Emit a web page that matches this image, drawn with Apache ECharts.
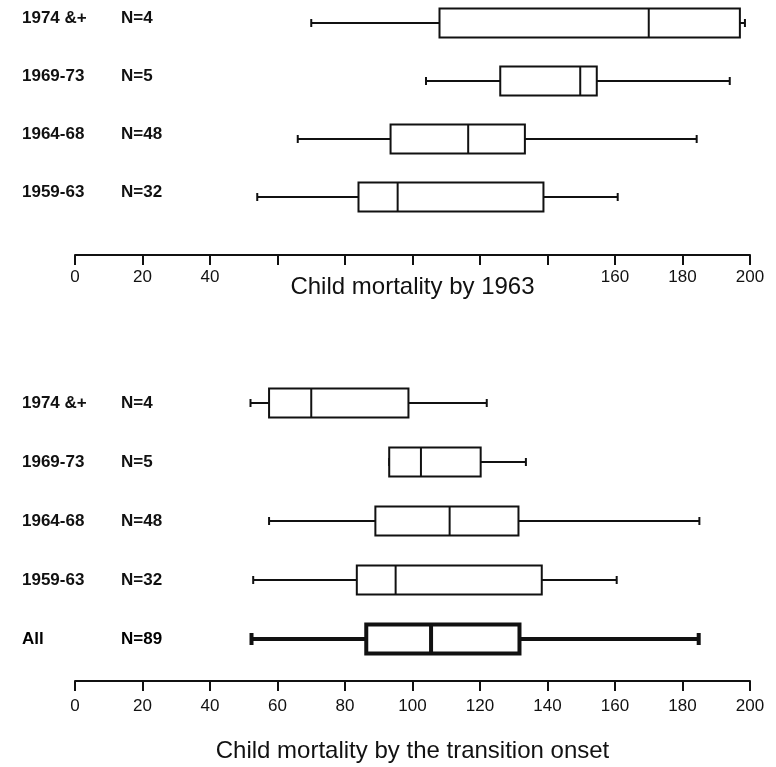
<!DOCTYPE html>
<html>
<head>
<meta charset="utf-8">
<script src="https://cdn.jsdelivr.net/npm/echarts@6/dist/echarts.min.js"></script>
<style>
  html, body { margin: 0; padding: 0; background: #fff; }
  #chart { width: 776px; height: 767px; }
</style>
</head>
<body>
<div id="chart"></div>
<script>
// row labels
const periods = ['1974 &+', '1969-73', '1964-68', '1959-63']
const counts = ['N=4', 'N=5', 'N=48', 'N=32']
const onsetPeriods = ['1974 &+', '1969-73', '1964-68', '1959-63', 'All']
const onsetCounts = ['N=4', 'N=5', 'N=48', 'N=32', 'N=89']

// [min, Q1, median, Q3, max]
const by1963 = [
  [70, 108, 170, 197, 198.5],
  [104, 126, 149.7, 154.6, 194],
  [66, 93.5, 116.5, 133.3, 184.2],
  [54, 84, 95.6, 138.8, 160.8]
]
const byOnset = [
  [52, 57.5, 70, 98.8, 122],
  [93.1, 93.1, 102.5, 120.2, 133.6],
  [57.5, 89, 111, 131.4, 185],
  [52.8, 83.5, 95, 138.3, 160.5],
  [52.3, 86.3, 105.5, 131.7, 184.8]
]

const font = 'Liberation Sans'
const ink = '#111'

// draw one box: whiskers with short caps, box and median
function renderBox(params, api) {
  const cat = api.value(0)
  const p = [1, 2, 3, 4, 5].map(i => api.coord([api.value(i), cat]))
  const y = p[0][1]
  const heavy = params.seriesIndex === 1 && params.dataIndex === 4
  const lw = heavy ? 4 : 2
  const cap = heavy ? 6 : 4
  const h = 29
  const style = { stroke: ink, lineWidth: lw, fill: null }
  const seg = (x1, y1, x2, y2) => ({
    type: 'line',
    shape: { x1, y1, x2, y2 },
    style
  })
  return {
    type: 'group',
    children: [
      seg(p[0][0], y, p[1][0], y),
      seg(p[3][0], y, p[4][0], y),
      seg(p[0][0], y - cap, p[0][0], y + cap),
      seg(p[4][0], y - cap, p[4][0], y + cap),
      {
        type: 'rect',
        shape: { x: p[1][0], y: y - h / 2, width: p[3][0] - p[1][0], height: h },
        style: { stroke: ink, lineWidth: lw, fill: '#fff' }
      },
      seg(p[2][0], y - h / 2, p[2][0], y + h / 2)
    ]
  }
}

function valueAxis(gridIndex, offset, name, nameGap, labelMargin, hideMiddle) {
  return {
    type: 'value',
    gridIndex,
    min: 0,
    max: 200,
    interval: 20,
    offset,
    position: 'bottom',
    name,
    nameLocation: 'middle',
    nameGap,
    nameMoveOverlap: false,
    nameTextStyle: { fontFamily: font, fontSize: 24, color: ink },
    splitLine: { show: false },
    axisLine: { show: true, lineStyle: { color: ink, width: 2 } },
    axisTick: { show: true, length: 10, lineStyle: { color: ink, width: 2 } },
    axisLabel: {
      margin: labelMargin,
      fontFamily: font,
      fontSize: 17,
      color: ink,
      formatter: v => (hideMiddle && v > 40 && v < 160 ? '' : String(v))
    }
  }
}

function catAxis(gridIndex, cats, ns, raise) {
  return {
    type: 'category',
    gridIndex,
    data: cats,
    inverse: true,
    boundaryGap: false,
    axisLine: { show: false },
    axisTick: { show: false },
    splitLine: { show: false },
    axisLabel: {
      align: 'left',
      margin: 53,
      padding: [0, 0, raise, 0],
      formatter: (v, i) => (v === 'All' ? `{c|${v}}{d|${ns[i]}}` : `{a|${v}}{b|${ns[i]}}`),
      rich: {
        a: { width: 99, fontFamily: font, fontSize: 17, fontWeight: 'bold', color: ink },
        b: { fontFamily: font, fontSize: 17, fontWeight: 'bold', color: ink },
        c: { width: 99, fontFamily: font, fontSize: 17, fontWeight: 'bold', color: '#000' },
        d: { fontFamily: font, fontSize: 17, fontWeight: 'bold', color: '#000' }
      }
    }
  }
}

const chart = echarts.init(document.getElementById('chart'))
chart.setOption({
  backgroundColor: '#fff',
  animation: false,
  grid: [
    { left: 75, width: 675, top: 23, height: 174 },
    { left: 75, width: 675, top: 403, height: 236 }
  ],
  xAxis: [
    valueAxis(0, 58, 'Child mortality by 1963', 20, 14, true),
    valueAxis(1, 42, 'Child mortality by the transition onset', 58, 17, false)
  ],
  yAxis: [
    catAxis(0, periods, counts, 9),
    catAxis(1, onsetPeriods, onsetCounts, 0)
  ],
  series: [
    {
      type: 'custom',
      xAxisIndex: 0,
      yAxisIndex: 0,
      renderItem: renderBox,
      encode: { x: [1, 2, 3, 4, 5], y: 0 },
      data: by1963.map((r, i) => [i, ...r])
    },
    {
      type: 'custom',
      xAxisIndex: 1,
      yAxisIndex: 1,
      renderItem: renderBox,
      encode: { x: [1, 2, 3, 4, 5], y: 0 },
      data: byOnset.map((r, i) => [i, ...r])
    }
  ]
})
</script>
</body>
</html>
